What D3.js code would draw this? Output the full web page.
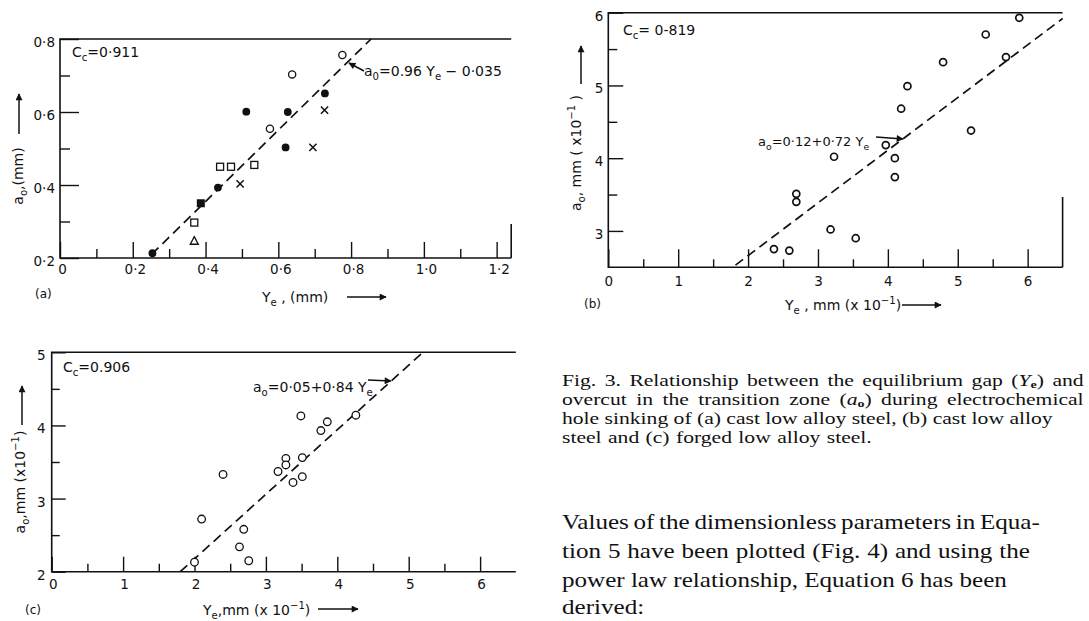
<!DOCTYPE html>
<html><head><meta charset="utf-8">
<script src="https://cdn.jsdelivr.net/npm/d3@7"></script>
<style>
body{margin:0;background:#fff}
svg{display:block}
text{font-family:"DejaVu Sans",sans-serif;fill:#111}
text.serif{font-family:"Liberation Serif","Times New Roman",serif}
</style>
</head><body><svg id="c" width="1089" height="621"></svg>
<script>
// ---------------- DATA ----------------
// Panel (a): cast low alloy steel
const aXTicks = [0, 0.2, 0.4, 0.6, 0.8, 1.0, 1.2];
const aXTickLabels = ["0", "0·2", "0·4", "0·6", "0·8", "1·0", "1·2"];
const aXMinor = [0.1, 0.3, 0.5, 0.7, 0.9, 1.1];
const aYTicks = [0.2, 0.4, 0.6, 0.8];
const aYTickLabels = ["0·2", "0·4", "0·6", "0·8"];
const aYMinor = [0.3, 0.5, 0.7];
const aFilledCircleX = [0.254, 0.434, 0.512, 0.626, 0.620, 0.728];
const aFilledCircleY = [0.213, 0.393, 0.601, 0.600, 0.503, 0.651];
const aFilledSquareX = [0.387];
const aFilledSquareY = [0.350];
const aOpenCircleX = [0.776, 0.638, 0.577];
const aOpenCircleY = [0.756, 0.703, 0.554];
const aOpenSquareX = [0.369, 0.440, 0.470, 0.534];
const aOpenSquareY = [0.297, 0.450, 0.450, 0.455];
const aTriangleX = [0.369];
const aTriangleY = [0.247];
const aCrossX = [0.495, 0.695, 0.727];
const aCrossY = [0.403, 0.503, 0.605];
const aFitX = [0.252, 0.855];
const aFitY = [0.210, 0.800];

// Panel (b): cast low alloy steel
const bXTicks = [0, 1, 2, 3, 4, 5, 6];
const bXTickLabels = ["0", "1", "2", "3", "4", "5", "6"];
const bXMinor = [0.5, 1.5, 2.5, 3.5, 4.5, 5.5];
const bYTicks = [3, 4, 5, 6];
const bYTickLabels = ["3", "4", "5", "6"];
const bYMinor = [3.5, 4.5, 5.5];
const bX = [2.37, 2.59, 2.69, 2.69, 3.18, 3.23, 3.54, 3.97, 4.10, 4.10, 4.19, 4.28, 4.79, 5.19, 5.40, 5.69, 5.88];
const bY = [2.75, 2.73, 3.51, 3.40, 3.02, 4.02, 2.90, 4.18, 4.00, 3.74, 4.68, 4.99, 5.32, 4.38, 5.70, 5.39, 5.93];
const bFitX = [1.82, 6.50];
const bFitY = [2.53, 5.92];

// Panel (c): forged low alloy steel
const cXTicks = [0, 1, 2, 3, 4, 5, 6];
const cXTickLabels = ["0", "1", "2", "3", "4", "5", "6"];
const cXMinor = [0.5, 1.5, 2.5, 3.5, 4.5, 5.5];
const cYTicks = [2, 3, 4, 5];
const cYTickLabels = ["2", "3", "4", "5"];
const cYMinor = [2.5, 3.5, 4.5];
const cX = [2.00, 2.10, 2.40, 2.63, 2.69, 2.76, 3.17, 3.28, 3.28, 3.38, 3.49, 3.51, 3.51, 3.77, 3.86, 4.26];
const cY = [2.13, 2.72, 3.33, 2.34, 2.58, 2.15, 3.37, 3.55, 3.46, 3.22, 4.13, 3.56, 3.30, 3.93, 4.05, 4.14];
const cFitX = [1.80, 5.20];
const cFitY = [2.00, 5.00];

// ---------------- DRAWING ----------------
const svg = d3.select("#c");
const INK = "#111";
const defs = svg.append("defs");
defs.append("marker").attr("id", "ah").attr("viewBox", "0 0 10 10")
  .attr("refX", 9).attr("refY", 5).attr("markerWidth", 11).attr("markerHeight", 7)
  .attr("markerUnits", "userSpaceOnUse").attr("orient", "auto")
  .append("path").attr("d", "M0,0L10,5L0,10Z").attr("fill", INK);

function rich(sel, parts, size) {
  let shift = 0;
  parts.forEach(([t, k]) => {
    const target = k === "sub" ? size * 0.32 : k === "sup" ? -size * 0.42 : 0;
    const ts = sel.append("tspan").text(t);
    if (target !== shift) ts.attr("dy", target - shift);
    if (k === "sub" || k === "sup") ts.attr("font-size", size * 0.72);
    shift = target;
  });
  return sel;
}
function arrow(g, x1, y1, x2, y2) {
  g.append("line").attr("x1", x1).attr("y1", y1).attr("x2", x2).attr("y2", y2)
    .attr("stroke", INK).attr("stroke-width", 1.5).attr("marker-end", "url(#ah)");
}
function label(g, x, y, parts, size, anchor) {
  const t = g.append("text").attr("x", x).attr("y", y).attr("font-size", size)
    .attr("text-anchor", anchor || "start");
  return rich(t, parts, size);
}
function vlabel(g, cx, cy, parts, size) {
  const t = g.append("text").attr("transform", `translate(${cx},${cy}) rotate(-90)`)
    .attr("font-size", size).attr("text-anchor", "middle");
  return rich(t, parts, size);
}

function drawPanel(p) {
  const g = svg.append("g");
  const x = d3.scaleLinear().domain(p.xDomain).range(p.xRange);
  const y = d3.scaleLinear().domain(p.yDomain).range(p.yRange);
  const [xl, xr] = p.xRange, [yb, yt] = p.yRange;

  const ax = (a, vals, len, fmt, pad) => a.tickValues(vals).tickSize(-len).tickPadding(pad).tickFormat(fmt);
  const gxm = g.append("g").attr("transform", `translate(0,${yb})`)
    .call(ax(d3.axisBottom(x), p.xMinor, p.xMinorLen, () => "", 0));
  const gxM = g.append("g").attr("transform", `translate(0,${yb})`)
    .call(ax(d3.axisBottom(x), p.xTicks, p.xMajorLen, (d, i) => p.xTickLabels[i], p.xPad));
  const gym = g.append("g").attr("transform", `translate(${xl},0)`)
    .call(ax(d3.axisLeft(y), p.yMinor, p.yMinorLen, () => "", 0));
  const gyM = g.append("g").attr("transform", `translate(${xl},0)`)
    .call(ax(d3.axisLeft(y), p.yTicks, p.yMajorLen, (d, i) => p.yTickLabels[i], p.yPad));
  [gxm, gxM, gym, gyM].forEach(s => {
    s.select(".domain").remove();
    s.selectAll("line").attr("stroke", INK).attr("stroke-width", 1.4);
    s.selectAll("text").attr("font-size", 13.5).attr("fill", INK)
      .style("font-family", '"DejaVu Sans",sans-serif');
  });
  gxM.selectAll("text").attr("dx", p.xLabelDx || 0);
  gyM.selectAll("text").attr("dy", "0.55em");

  g.append("path").attr("d", `M${xr},${yt}H${xl}V${yb}H${xr}`)
    .attr("fill", "none").attr("stroke", INK).attr("stroke-width", 1.6);
  if (p.rightTop != null)
    g.append("line").attr("x1", xr).attr("x2", xr).attr("y1", p.rightTop).attr("y2", yb)
      .attr("stroke", INK).attr("stroke-width", 1.6);

  g.append("path").datum(d3.zip(p.fitX, p.fitY))
    .attr("d", d3.line().x(d => x(d[0])).y(d => y(d[1])))
    .attr("fill", "none").attr("stroke", INK).attr("stroke-width", 1.7)
    .attr("stroke-dasharray", "9.5,5.5");

  return { g, x, y };
}

// ---- Panel (a)
{
  const { g, x, y } = drawPanel({
    xDomain: [0, 1.24], xRange: [60, 511.2], yDomain: [0.2, 0.8], yRange: [258, 39],
    xTicks: aXTicks, xTickLabels: aXTickLabels, xMinor: aXMinor,
    yTicks: aYTicks, yTickLabels: aYTickLabels, yMinor: aYMinor,
    xMajorLen: 16, xMinorLen: 9, yMajorLen: 19, yMinorLen: 10,
    xPad: 6, yPad: 5, xLabelDx: 2, rightTop: 224,
    fitX: aFitX, fitY: aFitY
  });
  const pts = (xs, ys) => xs.map((v, i) => [x(v), y(ys[i])]);
  g.selectAll(".fc").data(pts(aFilledCircleX, aFilledCircleY)).join("circle")
    .attr("cx", d => d[0]).attr("cy", d => d[1]).attr("r", 3.9).attr("fill", INK);
  g.selectAll(".fs").data(pts(aFilledSquareX, aFilledSquareY)).join("rect")
    .attr("x", d => d[0] - 4).attr("y", d => d[1] - 4).attr("width", 8).attr("height", 8).attr("fill", INK);
  g.selectAll(".oc").data(pts(aOpenCircleX, aOpenCircleY)).join("circle")
    .attr("cx", d => d[0]).attr("cy", d => d[1]).attr("r", 3.6)
    .attr("fill", "#fff").attr("stroke", INK).attr("stroke-width", 1.3);
  g.selectAll(".os").data(pts(aOpenSquareX, aOpenSquareY)).join("rect")
    .attr("x", d => d[0] - 3.5).attr("y", d => d[1] - 3.5).attr("width", 7).attr("height", 7)
    .attr("fill", "#fff").attr("stroke", INK).attr("stroke-width", 1.3);
  g.selectAll(".tr").data(pts(aTriangleX, aTriangleY)).join("path")
    .attr("transform", d => `translate(${d[0]},${d[1]})`)
    .attr("d", "M0,-4.2L4,3.4L-4,3.4Z").attr("fill", "#fff").attr("stroke", INK).attr("stroke-width", 1.3);
  g.selectAll(".cr").data(pts(aCrossX, aCrossY)).join("path")
    .attr("transform", d => `translate(${d[0]},${d[1]})`)
    .attr("d", "M-3.6,-3.6L3.6,3.6M-3.6,3.6L3.6,-3.6").attr("stroke", INK).attr("stroke-width", 1.5);

  label(g, 72, 57, [["C"], ["c", "sub"], ["=0·911"]], 14);
  label(g, 364, 76, [["a"], ["0", "sub"], ["=0.96 Y"], ["e", "sub"], [" − 0·035"]], 14);
  arrow(g, 364, 71, 349, 63);
  vlabel(g, 23, 176, [["a"], ["o", "sub"], [",(mm)"]], 14);
  arrow(g, 19, 134, 19, 94);
  label(g, 262, 302, [["Y"], ["e", "sub"], [" , (mm)"]], 14);
  arrow(g, 347, 297, 386, 297);
  label(g, 35, 298, [["(a)"]], 12);
}

// ---- Panel (b)
{
  const { g, x, y } = drawPanel({
    xDomain: [0, 6.5], xRange: [608.3, 1062.6], yDomain: [2.5, 6], yRange: [267.3, 12.7],
    xTicks: bXTicks, xTickLabels: bXTickLabels, xMinor: bXMinor,
    yTicks: bYTicks, yTickLabels: bYTickLabels, yMinor: bYMinor,
    xMajorLen: 18, xMinorLen: 8, yMajorLen: 15, yMinorLen: 9,
    xPad: 9, yPad: 5, xLabelDx: 0, rightTop: 197,
    fitX: bFitX, fitY: bFitY
  });
  g.selectAll(".pt").data(bX.map((v, i) => [x(v), y(bY[i])])).join("circle")
    .attr("cx", d => d[0]).attr("cy", d => d[1]).attr("r", 3.5)
    .attr("fill", "#fff").attr("stroke", INK).attr("stroke-width", 1.7);
  label(g, 623, 35, [["C"], ["c", "sub"], ["= 0-819"]], 14);
  label(g, 758, 146, [["a"], ["o", "sub"], ["=0·12+0·72 Y"], ["e", "sub"]], 13);
  arrow(g, 876, 137, 903, 139);
  vlabel(g, 581, 153, [["a"], ["o", "sub"], [", mm ( x10"], ["−1", "sup"], [" )"]], 14);
  arrow(g, 581, 84, 581, 46);
  label(g, 785, 310, [["Y"], ["e", "sub"], [" , mm (x 10"], ["−1", "sup"], [")"]], 14);
  arrow(g, 902, 305, 941, 305);
  label(g, 584, 308, [["(b)"]], 12);
}

// ---- Panel (c)
{
  const { g, x, y } = drawPanel({
    xDomain: [0, 6.5], xRange: [51.7, 515.8], yDomain: [2, 5], yRange: [571.7, 352.3],
    xTicks: cXTicks, xTickLabels: cXTickLabels, xMinor: cXMinor,
    yTicks: cYTicks, yTickLabels: cYTickLabels, yMinor: cYMinor,
    xMajorLen: 15, xMinorLen: 8, yMajorLen: 14, yMinorLen: 8,
    xPad: 8, yPad: 6, xLabelDx: 1, rightTop: null,
    fitX: cFitX, fitY: cFitY
  });
  g.selectAll(".pt").data(cX.map((v, i) => [x(v), y(cY[i])])).join("circle")
    .attr("cx", d => d[0]).attr("cy", d => d[1]).attr("r", 3.8)
    .attr("fill", "#fff").attr("stroke", INK).attr("stroke-width", 1.3);
  label(g, 63, 372, [["C"], ["c", "sub"], ["=0.906"]], 14);
  label(g, 253, 392, [["a"], ["o", "sub"], ["=0·05+0·84 Y"], ["e", "sub"]], 14);
  arrow(g, 368, 380, 391, 381);
  vlabel(g, 25, 482, [["a"], ["o", "sub"], [",mm (x10"], ["−1", "sup"], [")"]], 14);
  arrow(g, 22, 425, 22, 386);
  label(g, 203, 615, [["Y"], ["e", "sub"], [",mm (x 10"], ["−1", "sup"], [")"]], 14);
  arrow(g, 318, 609, 358, 609);
  label(g, 25, 614, [["(c)"]], 12);
}

// ---- Caption & body text
const captionLines = [
  [["Fig. 3. Relationship between the equilibrium gap ("], ["Y", "it"], ["e", "sub"], [") and"]],
  [["overcut in the transition zone ("], ["a", "it"], ["o", "sub"], [") during electrochemical"]],
  [["hole sinking of (a) cast low alloy steel, (b) cast low alloy"]],
  [["steel and (c) forged low alloy steel."]]
];
const bodyLines = [
  "Values of the dimensionless parameters in Equa-",
  "tion 5 have been plotted (Fig. 4) and using the",
  "power law relationship, Equation 6 has been",
  "derived:"
];
const X0 = 562;
function serifLine(parts, size, base) {
  const t = svg.append("text").attr("class", "serif").attr("font-size", size)
    .attr("transform", `translate(${X0},${base})`);
  let shift = 0;
  parts.forEach(([s, k]) => {
    const target = k === "sub" ? size * 0.15 : 0;
    const ts = t.append("tspan").text(s);
    if (target !== shift) ts.attr("dy", target - shift);
    if (k === "sub") ts.attr("font-size", size * 0.65).attr("font-weight", "bold");
    if (k === "it") ts.attr("font-style", "italic");
    shift = target;
  });
  return t;
}
// lay out a block: horizontal scale from a reference line, then word spacing to reach each line's right end
function block(lines, size, bases, refIdx, ends) {
  const nodes = lines.map((l, i) => serifLine(l, size, bases[i]));
  const sx = (ends[refIdx] - X0) / nodes[refIdx].node().getComputedTextLength();
  nodes.forEach((n, i) => {
    const txt = n.text();
    const spaces = (txt.match(/ /g) || []).length;
    const want = (ends[i] - X0) / sx;
    const have = n.node().getComputedTextLength();
    if (i !== refIdx && spaces > 0) n.attr("word-spacing", (want - have) / spaces);
    n.attr("transform", `translate(${X0},${bases[i]}) scale(${sx},1)`);
  });
}
block(captionLines, 16, [385.5, 404.5, 423.5, 442.5], 2, [1084, 1084, 1053, 872]);
block(bodyLines.map(s => [[s]]), 22, [529, 558, 586.5, 614], 2, [1040, 1030, 1007, 635]);
</script></body></html>
